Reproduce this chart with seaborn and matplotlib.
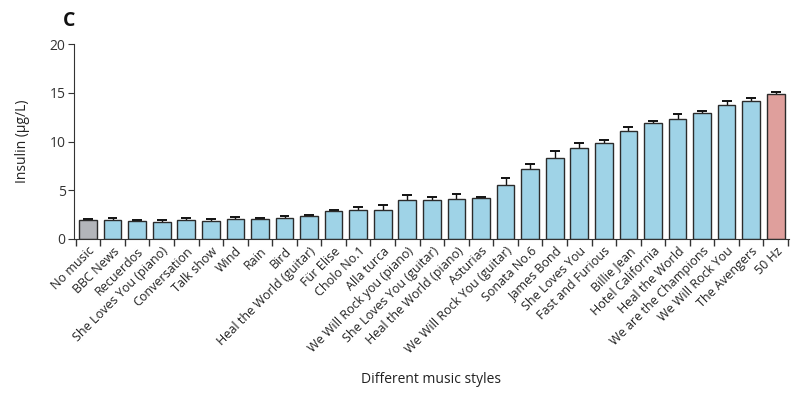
import numpy as np
import pandas as pd
import matplotlib
matplotlib.use("Agg")
import matplotlib.pyplot as plt
import seaborn as sns

styles = ["No music", "BBC News", "Recuerdos", "She Loves You (piano)", "Conversation",
          "Talk show", "Wind", "Rain", "Bird", "Heal the World (guitar)", "Für Elise",
          "Cholo No.1", "Alla turca", "We Will Rock you (piano)", "She Loves You (guitar)",
          "Heal the World (piano)", "Asturias", "We Will Rock You (guitar)", "Sonata No.6",
          "James Bond", "She Loves You", "Fast and Furious", "Billie Jean",
          "Hotel California", "Heal the World", "We are the Champions", "We Will Rock You",
          "The Avengers", "50 Hz"]
insulin = [1.95, 1.91, 1.81, 1.71, 1.95, 1.85, 2.09, 2.05, 2.19, 2.32, 2.84, 3.0, 2.97,
           4.03, 4.03, 4.1, 4.2, 5.5, 7.2, 8.34, 9.3, 9.9, 11.08, 11.9, 12.34, 12.92,
           13.78, 14.15, 14.87]
sem = [0.14, 0.24, 0.17, 0.27, 0.17, 0.2, 0.13, 0.14, 0.17, 0.11, 0.13, 0.28, 0.48,
       0.52, 0.27, 0.55, 0.1, 0.8, 0.46, 0.69, 0.58, 0.25, 0.37, 0.24, 0.51, 0.18,
       0.41, 0.35, 0.23]

df = pd.DataFrame({"style": styles, "insulin": insulin, "sem": sem})
df["top"] = df["insulin"] + df["sem"]

colors = ["#b3b5ba"] + ["#9fd3e7"] * (len(styles) - 2) + ["#df9f9c"]

sns.set_style("ticks")
plt.rcParams["font.family"] = ["Open Sans", "DejaVu Sans"]

fig = plt.figure(figsize=(8, 3.97), dpi=100)
ax = fig.add_axes([0.0925, 0.398, 0.8935, 0.491])

sns.barplot(data=df, x="style", y="insulin", hue="style", palette=colors, legend=False,
            width=0.72, saturation=1, edgecolor="#2b2b2b", linewidth=1.0, ax=ax, zorder=2)
x = np.arange(len(styles))
# upper-only error bars
ax.vlines(x, df["insulin"], df["top"], color="#111111", linewidth=1.0, zorder=1)
ax.hlines(df["top"], x - 0.2, x + 0.2, color="#111111", linewidth=1.4, zorder=1)

ax.set_xlim(-0.57, len(styles) - 0.47)
ax.set_ylim(0, 20)
ax.set_yticks([0, 5, 10, 15, 20])
ax.tick_params(axis="y", labelsize=10, colors="#333333", length=4, pad=2)
ax.set_xticks(x)
ax.set_xticklabels(styles, rotation=45, ha="right", rotation_mode="anchor", fontsize=9,
                   color="#222222")
ax.tick_params(axis="x", length=0, pad=4)
ax.set_xticks(np.arange(-0.5, len(styles)), minor=True)
ax.tick_params(axis="x", which="minor", length=5, width=1, color="#333333")
for s in ["top", "right"]:
    ax.spines[s].set_visible(False)
ax.spines["left"].set_color("#333333")
ax.spines["bottom"].set_color("#333333")

ax.set_ylabel("Insulin (μg/L)", fontsize=10, color="#222222")
ax.set_xlabel("Different music styles", fontsize=10, color="#222222")
ax.yaxis.set_label_coords(-0.062, 0.5)
ax.xaxis.set_label_coords(0.5, -0.68)
fig.text(0.078, 0.935, "C", fontsize=14, fontweight="bold", color="#111111")

fig.savefig("out.png", dpi=100)
